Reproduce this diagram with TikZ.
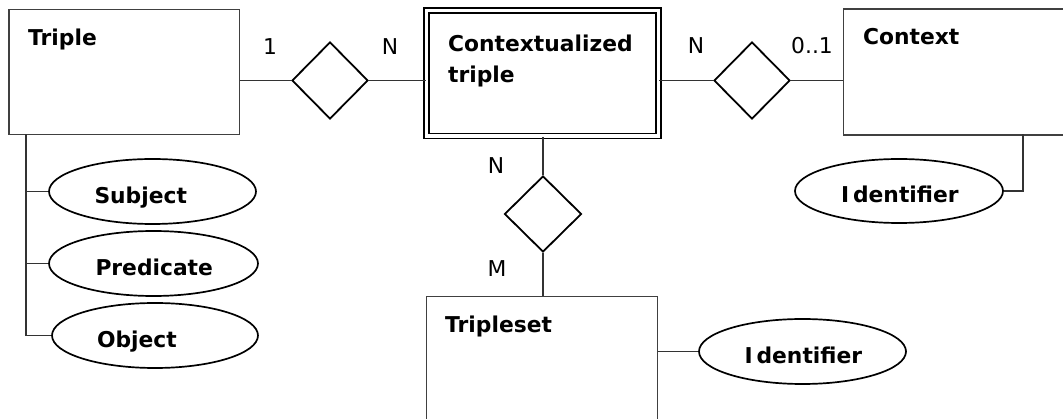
\documentclass[tikz,border=0pt]{standalone}
\usepackage{fontspec}
\setmainfont{DejaVu Sans}
\usetikzlibrary{shapes.geometric}

\tikzset{
  entity/.style={draw=black!75, line width=1.7pt, rectangle, inner sep=0pt},
  weakentity/.style={draw=black, line width=1.9pt, double=white, double distance=3.1pt, rectangle, inner sep=0pt},
  relation/.style={draw=black, line width=1.8pt, diamond, aspect=1, inner sep=0pt},
  attribute/.style={draw=black, line width=1.7pt, ellipse, inner sep=0pt,
    minimum width=207pt, minimum height=65pt, text width=116pt, align=left,
    text height=24pt, text depth=0pt,
    font=\fontsize{21.8pt}{26pt}\selectfont\bfseries},
  title/.style={inner sep=0pt, font=\fontsize{21.8pt}{31pt}\selectfont\bfseries},
  card/.style={inner sep=0pt, font=\fontsize{21.8pt}{26pt}\selectfont},
  link/.style={draw=black!80, line width=1.7pt},
}

\begin{document}
\begin{tikzpicture}[x=1pt, y=-1pt]
  \useasboundingbox (0,0) rectangle (1063,419);
  \clip (0,0) rectangle (1063,419);

  % entities
  \node[entity, minimum width=230.5pt, minimum height=125pt] (triple) at (124.25,72) {};
  \node[title, anchor=base west] (tripleT) at (28,46) {Triple};

  \node[weakentity, minimum width=232pt, minimum height=125.5pt] (ctriple) at (542.5,73.25) {};
  \node[title, anchor=base west] (ctripleT1) at (448,52) {Contextualized};
  \node[title, anchor=base west] (ctripleT2) at (448,83) {triple};

  \node[entity, minimum width=246pt, minimum height=125.5pt] (context) at (966.5,72) {};
  \node[title, anchor=base west] (contextT) at (863,45) {Context};

  \node[entity, minimum width=231pt, minimum height=150pt] (tripleset) at (542,371.5) {};
  \node[title, anchor=base west] (triplesetT) at (445,333) {Tripleset};

  % relationships
  \node[relation, minimum width=76pt, minimum height=77pt] (r1) at (330,80.5) {};
  \node[relation, minimum width=76pt, minimum height=77pt] (r2) at (752,80.5) {};
  \node[relation, minimum width=77pt, minimum height=76pt] (r3) at (543,214) {};

  % attributes
  \node[attribute] (subject) at (152.5,191.5) {Subject};
  \node[attribute, minimum width=209pt] (predicate) at (153.5,263.5) {Predicate};
  \node[attribute, minimum width=206pt] (object) at (155,335.5) {Object};
  \node[attribute, minimum width=208pt, minimum height=64pt] (ctxid) at (899,191) {I\kern4pt dentifier};
  \node[attribute] (tsid) at (802.5,351.5) {I\kern4pt dentifier};

  % relationship links
  \draw[link] (triple.east |- r1) -- (r1.west);
  \draw[link] (r1.east) -- (ctriple.west |- r1);
  \draw[link] (ctriple.east |- r2) -- (r2.west);
  \draw[link] (r2.east) -- (context.west |- r2);
  \draw[link] (ctriple.south -| r3) -- (r3.north);
  \draw[link] (r3.south) -- (tripleset.north -| r3);

  % attribute links
  \coordinate (trunk) at (26,134.5);
  \draw[link] (trunk) |- (subject.west);
  \draw[link] (trunk) |- (predicate.west);
  \draw[link] (trunk) |- (object.west);
  \coordinate (ctxfoot) at (1023,134.5);
  \draw[link] (ctxfoot) |- (ctxid.east);
  \draw[link] (tripleset.east |- tsid) -- (tsid.west);

  % cardinalities
  \node[card] (c1) at (270,47) {1};
  \node[card] (c2) at (390,47) {N};
  \node[card] (c3) at (696,46) {N};
  \node[card] (c4) at (812,46) {0..1};
  \node[card] (c5) at (496,166) {N};
  \node[card] (c6) at (497,269) {M};
\end{tikzpicture}
\end{document}
